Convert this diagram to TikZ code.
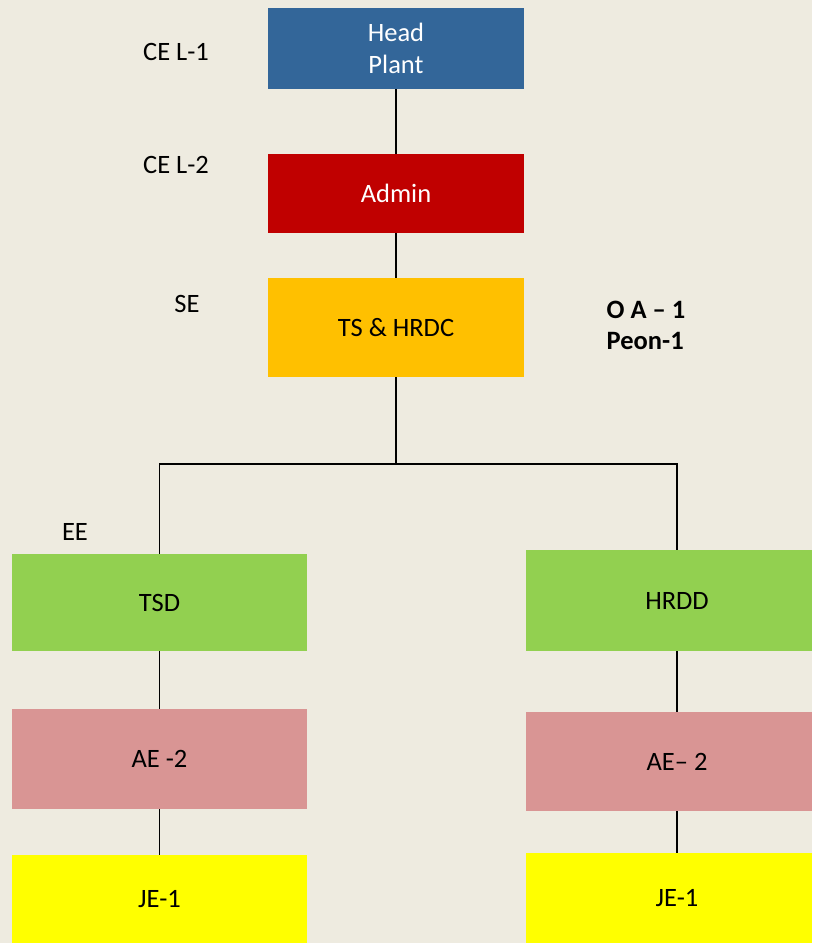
\documentclass[tikz,border=0pt]{standalone}
\usepackage{fontspec}
\setmainfont{Carlito}
\usepackage{tikz}
\definecolor{bgbeige}{HTML}{EEEBE0}
\definecolor{headblue}{HTML}{336699}
\definecolor{adminred}{HTML}{C00000}
\definecolor{tsorange}{HTML}{FFC000}
\definecolor{divgreen}{HTML}{92D050}
\definecolor{aepink}{HTML}{D99594}
\definecolor{jeyellow}{HTML}{FFFF00}

\begin{document}
\begin{tikzpicture}[x=1pt,y=-1pt,
    box/.style={rectangle,inner sep=0pt,align=center,font=\fontsize{26.5}{32}\selectfont},
    rank/.style={font=\fontsize{26.5}{32}\selectfont},
    link/.style={line width=1.4pt}]
          \fill[bgbeige] (0,0) rectangle (812,943);
          \useasboundingbox (0,0) rectangle (812,943);
          \node[box,fill=headblue,text=white,minimum width=256,minimum height=81] (head) at (396,48.5) {Head\\Plant};
          \node[box,fill=adminred,text=white,minimum width=256,minimum height=79] (admin) at (396,193.5) {Admin};
          \node[box,fill=tsorange,minimum width=256,minimum height=99] (ts) at (396,327.5) {TS \& HRDC};
          \node[box,fill=divgreen,minimum width=295,minimum height=97] (tsd) at (159.5,602.5) {TSD};
          \node[box,fill=divgreen,minimum width=286,minimum height=101] (hrdd) at (669,600.5) {\hspace*{16pt}HRDD};
          \node[box,fill=aepink,minimum width=295,minimum height=100] (ael) at (159.5,759) {AE -2};
          \node[box,fill=aepink,minimum width=286,minimum height=99] (aer) at (669,761.5) {\hspace*{16pt}AE-- 2};
          \node[box,fill=jeyellow,minimum width=295,minimum height=88] (jel) at (159.5,899) {JE-1};
          \node[box,fill=jeyellow,minimum width=286,minimum height=90] (jer) at (669,898) {\hspace*{16pt}JE-1};
          % ranks on the left
          \node[rank] (cel1) at (176,52) {CE L-1};
          \node[rank] (cel2) at (176,165) {CE L-2};
          \node[rank] (se) at (187,304) {SE};
          \node[rank] (ee) at (75,532) {EE};
          \node[rank,font=\fontsize{26.5}{31}\selectfont\bfseries,align=left] (staff) at (646,325.5) {O A -- 1\\Peon-1};
          % connectors
          \coordinate (split) at (396,464);
          \coordinate (rdrop) at (677,464);
          \draw[link] (head) -- (admin);
          \draw[link] (admin) -- (ts);
          \draw[link] (ts) -- (split) -| (tsd);
          \draw[link] (split) -- (rdrop) -- (rdrop |- hrdd.north);
          \draw[link] (tsd) -- (ael);
          \draw[link] (ael) -- (jel);
          \draw[link] (hrdd.south -| rdrop) -- (aer.north -| rdrop);
          \draw[link] (aer.south -| rdrop) -- (jer.north -| rdrop);
        \end{tikzpicture}
\end{document}
